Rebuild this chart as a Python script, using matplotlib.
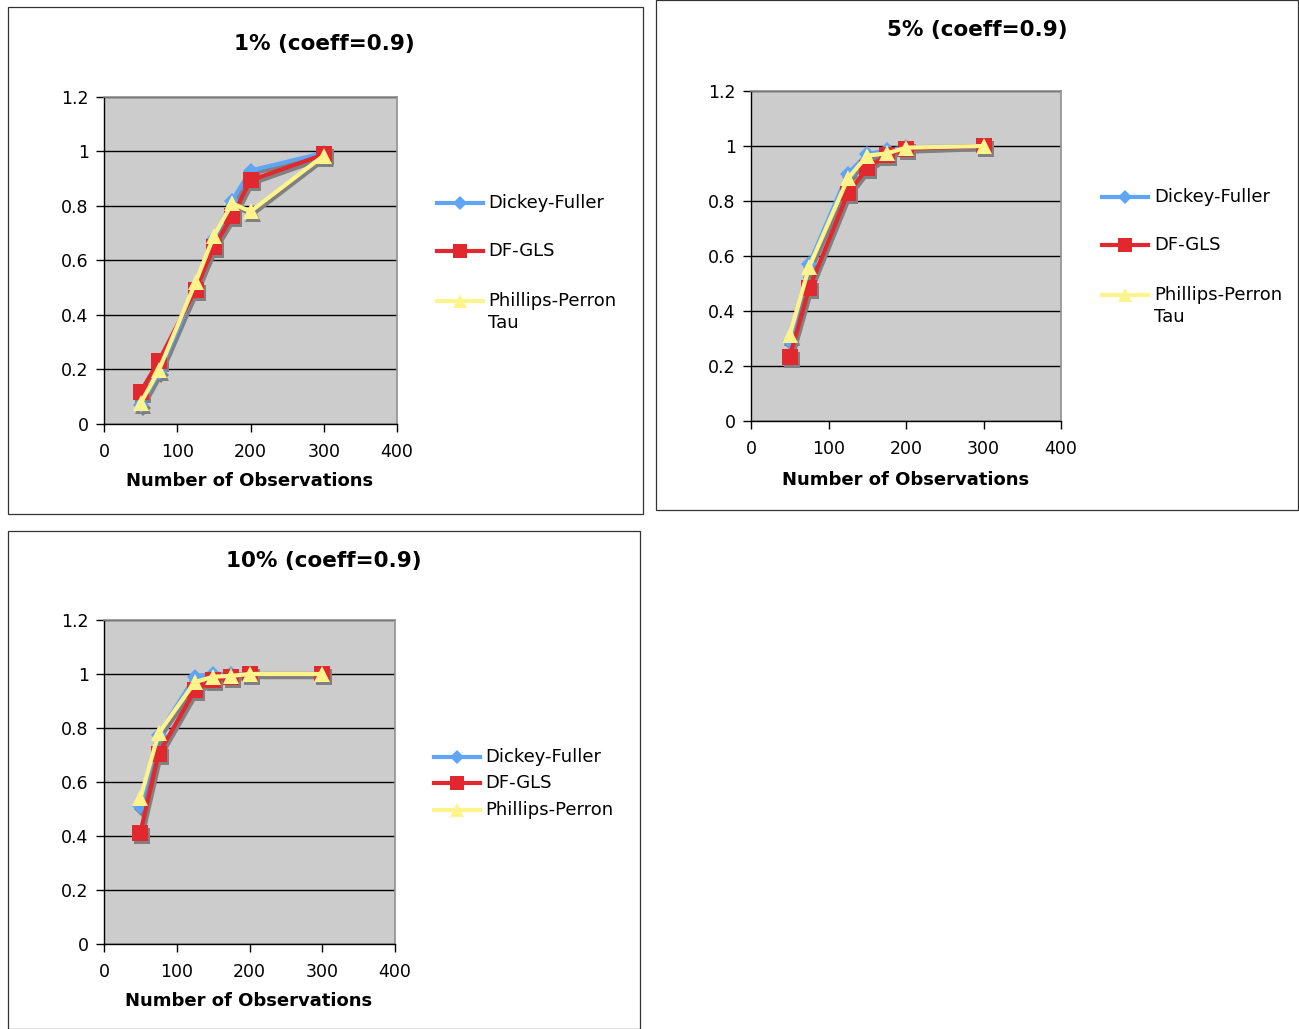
import matplotlib
matplotlib.use("Agg")
import matplotlib.pyplot as plt
from matplotlib.lines import Line2D
from matplotlib.patches import Rectangle
from matplotlib.transforms import ScaledTranslation

# ---------------- data ----------------
obs = [50, 75, 125, 150, 175, 200, 300]

df_1 = [0.07, 0.19, 0.50, 0.68, 0.82, 0.93, 0.995]
dfgls_1 = [0.118, 0.232, 0.493, 0.65, 0.762, 0.894, 0.989]
pp_1 = [0.076, 0.198, 0.52, 0.69, 0.81, 0.78, 0.985]

df_5 = [0.29, 0.57, 0.90, 0.97, 0.985, 0.995, 1.0]
dfgls_5 = [0.234, 0.482, 0.828, 0.919, 0.967, 0.99, 1.0]
pp_5 = [0.313, 0.56, 0.882, 0.965, 0.973, 0.994, 1.0]

df_10 = [0.51, 0.775, 0.99, 1.0, 1.0, 1.0, 1.0]
dfgls_10 = [0.412, 0.704, 0.94, 0.978, 0.99, 1.0, 1.0]
pp_10 = [0.54, 0.78, 0.97, 0.99, 0.993, 1.0, 1.0]

series_names = ["Dickey-Fuller", "DF-GLS", "Phillips-Perron"]
titles = ["1% (coeff=0.9)", "5% (coeff=0.9)", "10% (coeff=0.9)"]
xlabel = "Number of Observations"
yticks = [0, 0.2, 0.4, 0.6, 0.8, 1, 1.2]
ytick_labels = ["0", "0.2", "0.4", "0.6", "0.8", "1", "1.2"]
xticks = [0, 100, 200, 300, 400]

# ---------------- style ----------------
W, H = 1299, 1029
fig = plt.figure(figsize=(W / 100, H / 100), dpi=100)
fig.patch.set_facecolor("white")

colors = ["#5FA5F5", "#E0282E", "#FFF48C"]
markers = ["D", "s", "^"]
msizes = [8, 11, 12]
leg_msizes = [7, 9.5, 10.5]

def fx(px):
    return px / W

def fy(py):
    return 1 - py / H

# panel frames
frames = [(8, 7, 643, 514), (656, 0, 1298, 510), (8, 531, 640, 1029)]
for (x0, y0, x1, y1) in frames:
    fig.add_artist(Rectangle((fx(x0), fy(y1)), fx(x1) - fx(x0), fy(y0) - fy(y1),
                             transform=fig.transFigure, fill=False,
                             edgecolor="#333333", linewidth=0.9))

plot_areas = [(104, 97, 397, 424), (751, 91, 1061, 421), (104, 620, 395, 944)]
data_sets = [(df_1, dfgls_1, pp_1), (df_5, dfgls_5, pp_5), (df_10, dfgls_10, pp_10)]
title_pos = [(324, 44), (977, 30), (324, 561)]
xlabel_pos = [(250, 481), (906, 480), (249, 1001)]

for i in range(3):
    x0, y0, x1, y1 = plot_areas[i]
    ax = fig.add_axes([fx(x0), fy(y1), fx(x1) - fx(x0), fy(y0) - fy(y1)])
    ax.set_facecolor("#CCCCCC")
    ax.set_xlim(0, 400)
    ax.set_ylim(0, 1.2)
    ax.set_yticks(yticks)
    ax.set_yticklabels(ytick_labels)
    ax.set_xticks(xticks)
    ax.grid(axis="y", color="#000000", linewidth=1.0)
    ax.set_axisbelow(True)
    for s in ["top", "right"]:
        ax.spines[s].set_color("#909090")
        ax.spines[s].set_linewidth(1.2)
    for s in ["left", "bottom"]:
        ax.spines[s].set_color("#000000")
        ax.spines[s].set_linewidth(1.0)
    ax.tick_params(direction="out", length=6, width=1, labelsize=12.5)
    ax.tick_params(axis="y", pad=5)
    ax.tick_params(axis="x", pad=8)

    shadow = ax.transData + ScaledTranslation(2 / 100, -3 / 100, fig.dpi_scale_trans)
    for k, vals in enumerate(data_sets[i]):
        ax.plot(obs, vals, color="#808080", linewidth=3, marker=markers[k],
                markersize=msizes[k], markeredgewidth=0, transform=shadow,
                zorder=2 + k * 0.1, clip_on=False)
    for k, vals in enumerate(data_sets[i]):
        ax.plot(obs, vals, color=colors[k], linewidth=3, marker=markers[k],
                markersize=msizes[k], markeredgewidth=0, zorder=3 + k,
                clip_on=False)

    tx, ty = title_pos[i]
    fig.text(fx(tx), fy(ty), titles[i], ha="center", va="center",
             fontsize=15.5, fontweight="bold")
    lx, ly = xlabel_pos[i]
    fig.text(fx(lx), fy(ly), xlabel, ha="center", va="center",
             fontsize=13, fontweight="bold")

# legends (drawn manually in figure pixels)
legend_specs = [
    (437, 483, 488, [203, 251, 301], True),
    (1102, 1148, 1154, [197, 245, 295], True),
    (434, 480, 485, [757, 783, 810], False),
]
for (lx0, lx1, tx0, ys, two_line) in legend_specs:
    for k in range(3):
        yy = fy(ys[k])
        fig.add_artist(Line2D([fx(lx0), fx(lx1)], [yy, yy], transform=fig.transFigure,
                              color=colors[k], linewidth=3))
        fig.add_artist(Line2D([fx((lx0 + lx1) / 2)], [yy], transform=fig.transFigure,
                              color=colors[k], marker=markers[k],
                              markersize=leg_msizes[k], markeredgewidth=0, linestyle="none"))
        fig.text(fx(tx0), yy, series_names[k], ha="left", va="center", fontsize=13)
        if k == 2 and two_line:
            fig.text(fx(tx0), fy(ys[k] + 22), "Tau", ha="left", va="center", fontsize=13)

fig.savefig("out.png", dpi=100)
